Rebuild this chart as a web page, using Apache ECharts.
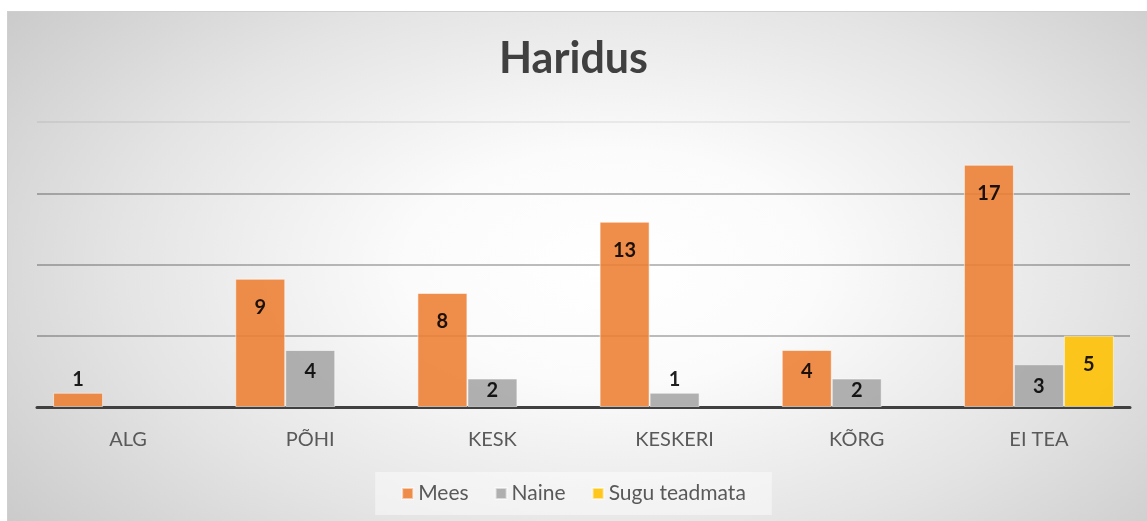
<!DOCTYPE html>
<html>
<head>
<meta charset="utf-8">
<script src="https://cdn.jsdelivr.net/npm/echarts@6/dist/echarts.min.js"></script>
<style>
  html, body { margin: 0; padding: 0; background: #fff; }
  #frame {
    position: absolute; left: 7px; top: 11px; width: 1140px; height: 510px;
    box-sizing: border-box; border-top: 1px solid #cfcfcf; border-left: 1px solid #cfcfcf;
    background: radial-gradient(ellipse 72% 92% at 53% 50%, #ffffff 0%, #fbfbfb 25%, #e4e4e4 60%, #c4c4c4 100%);
  }
  #chart { position: absolute; left: 0; top: 0; width: 1147px; height: 521px; }
</style>
</head>
<body>
<div id="frame"></div>
<div id="chart"></div>
<script>
const categories = ['ALG', 'PÕHI', 'KESK', 'KESKERI', 'KÕRG', 'EI TEA'];
const mees = [1, 9, 8, 13, 4, 17];
const naine = [null, 4, 2, 1, 2, 3];
const suguTeadmata = [null, null, null, null, null, 5];

const seriesNames = ['Mees', 'Naine', 'Sugu teadmata'];
const colors = ['#ED7D31', '#A5A5A5', '#FFC000'];

// small values get the label above the bar, like in Excel
function withLabels(values) {
  return values.map(v => {
    if (v == null) return null;
    let pos = 'insideTop', dist = 19;
    if (v <= 1) { pos = 'top'; dist = 3; }
    else if (v <= 2) { dist = 2; }
    else if (v <= 4) { dist = 12; }
    return { value: v, label: { position: pos, distance: dist } };
  });
}

const chart = echarts.init(document.getElementById('chart'));

const makeSeries = (name, values, i) => ({
  name: name,
  type: 'bar',
  barWidth: 50,
  barGap: '0%',
  data: withLabels(values),
  itemStyle: {
    color: colors[i],
    opacity: 0.88,
    borderColor: 'rgba(255,255,255,0.6)',
    borderWidth: 1
  },
  label: {
    show: true,
    color: '#000',
    fontFamily: 'Lato',
    fontWeight: 'bold',
    fontSize: 20
  }
});

chart.setOption({
  backgroundColor: 'transparent',
  color: colors,
  title: {
    text: 'Haridus',
    left: 'center',
    top: 33,
    textStyle: { fontFamily: 'Lato', fontSize: 43, fontWeight: 'bold', color: '#404040' }
  },
  legend: {
    bottom: 6,
    left: 'center',
    itemWidth: 11,
    itemHeight: 11,
    itemGap: 26,
    padding: [11, 26, 11, 26],
    backgroundColor: 'rgba(255,255,255,0.45)',
    icon: 'rect',
    textStyle: { fontFamily: 'Lato', fontSize: 21, color: '#595959' }
  },
  grid: {
    left: 37,
    right: 17,
    top: 122,
    bottom: 114,
    containLabel: false
  },
  xAxis: {
    type: 'category',
    data: categories,
    axisTick: { show: false },
    axisLine: { lineStyle: { color: '#404040', width: 3 } },
    axisLabel: { color: '#595959', fontFamily: 'Lato', fontSize: 20, margin: 23 }
  },
  yAxis: {
    type: 'value',
    min: 0,
    max: 20,
    interval: 5,
    axisLabel: { show: false },
    axisLine: { show: false },
    axisTick: { show: false },
    splitLine: {
      lineStyle: {
        color: ['rgba(0,0,0,0)', 'rgba(0,0,0,0.35)', 'rgba(0,0,0,0.35)', 'rgba(0,0,0,0.35)', 'rgba(0,0,0,0.08)'],
        width: 1.5
      }
    }
  },
  series: [
    makeSeries(seriesNames[0], mees, 0),
    makeSeries(seriesNames[1], naine, 1),
    makeSeries(seriesNames[2], suguTeadmata, 2)
  ]
});
</script>
</body>
</html>
